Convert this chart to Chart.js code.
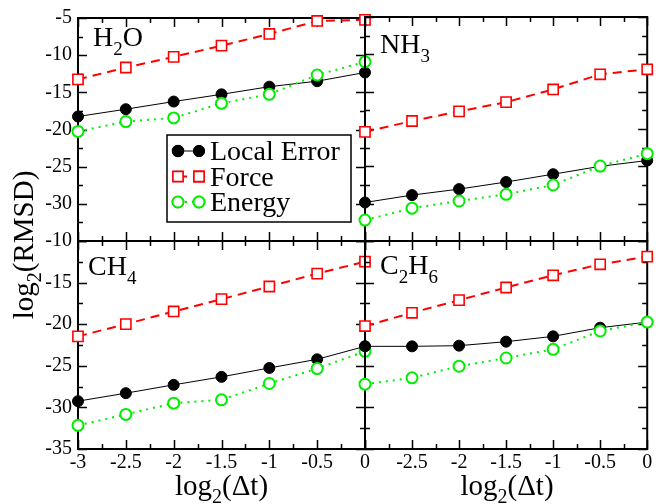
<!DOCTYPE html>
<html>
<head>
<meta charset="utf-8">
<script src="https://cdn.jsdelivr.net/npm/chart.js@4.4.1/dist/chart.umd.min.js"></script>
<style>
  html, body { margin: 0; padding: 0; background: #fff; }
  #wrap { position: relative; width: 656px; height: 504px; background: #fff; }
  #wrap canvas { position: absolute; left: 0; top: 0; }
</style>
</head>
<body>
<div id="wrap">
  <canvas id="cH2O" width="656" height="504"></canvas>
  <canvas id="cNH3" width="656" height="504"></canvas>
  <canvas id="cCH4" width="656" height="504"></canvas>
  <canvas id="cC2H6" width="656" height="504"></canvas>
</div>
<script>
// log2(dt) steps along x
const steps = [-3, -2.5, -2, -1.5, -1, -0.5, 0];
const xTickValues = [-3, -2.5, -2, -1.5, -1, -0.5, 0];
const xTickLabels = ['-3', '-2.5', '-2', '-1.5', '-1', '-0.5', '0'];
const yTickValuesTop = [-35, -30, -25, -20, -15, -10, -5];
const yTickLabelsTop = ['', '-30', '-25', '-20', '-15', '-10', '-5'];
const yTickValuesBottom = [-35, -30, -25, -20, -15, -10];
const yTickLabelsBottom = ['-35', '-30', '-25', '-20', '-15', '-10'];

const seriesNames = ['Local Error', 'Force', 'Energy'];

// log2(RMSD) per molecule
const h2oLocal  = [-18.25, -17.27, -16.24, -15.27, -14.24, -13.5, -12.33];
const h2oForce  = [-13.26, -11.66, -10.23, -8.72, -7.15, -5.4, -5.25];
const h2oEnergy = [-20.26, -18.93, -18.44, -16.48, -15.27, -12.67, -10.9];

const nh3Local  = [-29.84, -28.85, -28.05, -27.1, -26.05, -25.0, -24.22];
const nh3Force  = [-20.39, -18.93, -17.64, -16.4, -14.7, -12.67, -12.0];
const nh3Energy = [-32.2, -30.6, -29.64, -28.75, -27.5, -24.96, -23.3];

const ch4Local  = [-29.25, -28.29, -27.29, -26.33, -25.26, -24.22, -22.66];
const ch4Force  = [-21.46, -19.99, -18.47, -16.99, -15.47, -13.92, -12.48];
const ch4Energy = [-32.16, -30.84, -29.49, -29.09, -27.13, -25.33, -23.26];

const c2h6Local  = [-22.66, -22.66, -22.58, -22.1, -21.46, -20.42, -19.75];
const c2h6Force  = [-20.22, -18.63, -17.11, -15.59, -14.12, -12.8, -11.88];
const c2h6Energy = [-27.21, -26.45, -25.05, -24.06, -23.02, -20.82, -19.75];

const SERIF = "'Liberation Serif', 'Times New Roman', serif";
const W = 656, H = 504;
const AXIS_W = 50, AXIS_H = 40;

// draws text made of normal / subscript runs, returns total width
function drawRuns(ctx, runs, x, y, size, subSize, drop, measureOnly) {
  let cx = x;
  for (const [txt, sub] of runs) {
    ctx.font = (sub ? subSize : size) + 'px ' + SERIF;
    if (!measureOnly) ctx.fillText(txt, cx, sub ? y + drop : y);
    cx += ctx.measureText(txt).width;
  }
  return cx - x;
}

const styles = [
  { color: '#000000', dash: [], lineWidth: 1, pointStyle: 'circle', radius: 5.5, fill: '#000000', pbw: 1, order: 3 },
  { color: '#ff0000', dash: [9, 6], lineWidth: 2, pointStyle: 'rect', radius: 7.2, fill: '#ffffff', pbw: 1.6, order: 2 },
  { color: '#00ee00', dash: [2, 5], lineWidth: 2, pointStyle: 'circle', radius: 5.5, fill: '#ffffff', pbw: 2, order: 1 }
];

function makeDataset(i, values) {
  const s = styles[i];
  return {
    label: seriesNames[i],
    data: steps.map((x, k) => ({ x: x, y: values[k] })),
    borderColor: s.color,
    borderWidth: s.lineWidth,
    borderDash: s.dash,
    pointStyle: s.pointStyle,
    pointRadius: s.radius,
    pointBackgroundColor: s.fill,
    pointBorderColor: s.color,
    pointBorderWidth: s.pbw,
    tension: 0,
    clip: false,
    order: s.order
  };
}

// frame + inward major/minor ticks on all four sides
const frameTicks = {
  id: 'frameTicks',
  beforeDatasetsDraw(chart) {
    const { ctx, chartArea: a, scales: { x, y } } = chart;
    ctx.save();
    ctx.strokeStyle = '#000';
    ctx.lineWidth = 1.5;
    ctx.beginPath();
    for (let v = x.min; v <= x.max + 1e-9; v += 0.25) {
      const px = Math.round(x.getPixelForValue(v)) + 0.5;
      const len = Math.abs(v * 2 - Math.round(v * 2)) < 1e-6 ? 9 : 5;
      ctx.moveTo(px, a.bottom); ctx.lineTo(px, a.bottom - len);
      ctx.moveTo(px, a.top); ctx.lineTo(px, a.top + len);
    }
    for (let v = y.min; v <= y.max + 1e-9; v += 2.5) {
      const py = Math.round(y.getPixelForValue(v)) + 0.5;
      const len = Math.abs(v / 5 - Math.round(v / 5)) < 1e-6 ? 9 : 5;
      ctx.moveTo(a.left, py); ctx.lineTo(a.left + len, py);
      ctx.moveTo(a.right, py); ctx.lineTo(a.right - len, py);
    }
    ctx.stroke();
    ctx.lineWidth = 2;
    ctx.strokeRect(a.left, a.top, a.right - a.left, a.bottom - a.top);
    ctx.restore();
  }
};

function panelLabel(runs, x, y) {
  return {
    id: 'panelLabel',
    afterDatasetsDraw(chart) {
      const ctx = chart.ctx;
      ctx.save();
      ctx.fillStyle = '#000';
      ctx.textBaseline = 'alphabetic';
      ctx.textAlign = 'left';
      drawRuns(ctx, runs, x, y, 28, 19, 9);
      ctx.restore();
    }
  };
}

// legend box inside the H2O panel
const legendBox = {
  id: 'legendBox',
  afterDatasetsDraw(chart) {
    const ctx = chart.ctx;
    ctx.save();
    ctx.fillStyle = '#fff';
    ctx.fillRect(167, 135, 184, 87);
    ctx.strokeStyle = '#000';
    ctx.lineWidth = 1.5;
    ctx.strokeRect(167, 135, 184, 87);
    const rows = [151, 176.5, 202];
    rows.forEach((ry, i) => {
      const s = styles[i];
      ctx.save();
      ctx.strokeStyle = s.color;
      ctx.lineWidth = s.lineWidth;
      ctx.setLineDash(s.dash);
      ctx.beginPath();
      ctx.moveTo(178, ry); ctx.lineTo(199, ry);
      ctx.stroke();
      ctx.restore();
      [178, 199].forEach(mx => {
        Chart.helpers.drawPoint(ctx, {
          pointStyle: s.pointStyle, radius: s.radius, borderWidth: s.pbw, rotation: 0
        }, mx, ry);
        ctx.fillStyle = s.fill;
        ctx.strokeStyle = s.color;
        ctx.lineWidth = s.pbw;
        ctx.beginPath();
        if (s.pointStyle === 'rect') {
          const h = s.radius * Math.SQRT1_2;
          ctx.rect(mx - h, ry - h, 2 * h, 2 * h);
        } else {
          ctx.arc(mx, ry, s.radius, 0, Math.PI * 2);
        }
        ctx.fill();
        ctx.stroke();
      });
      ctx.fillStyle = '#000';
      ctx.font = '28px ' + SERIF;
      ctx.textBaseline = 'alphabetic';
      ctx.fillText(seriesNames[i], 210, ry + 9);
    });
    ctx.restore();
  }
};

// shared axis titles
const axisTitles = {
  id: 'axisTitles',
  afterDraw(chart) {
    const ctx = chart.ctx;
    ctx.save();
    ctx.fillStyle = '#000';
    ctx.textBaseline = 'alphabetic';
    ctx.textAlign = 'left';
    const xt = [['log', false], ['2', true], ['(\u0394t)', false]];
    [221.5, 507].forEach(cx => {
      const w = drawRuns(ctx, xt, 0, 0, 29, 20, 8, true);
      drawRuns(ctx, xt, cx - w / 2, 495, 29, 20, 8);
    });
    const yt = [['log', false], ['2', true], ['(RMSD)', false]];
    ctx.translate(33, 245);
    ctx.rotate(-Math.PI / 2);
    const w = drawRuns(ctx, yt, 0, 0, 29, 20, 8, true);
    drawRuns(ctx, yt, -w / 2, 0, 29, 20, 8);
    ctx.restore();
  }
};

function makeChart(id, panel, sets, extraPlugins) {
  const yVals = panel.top ? yTickValuesTop : yTickValuesBottom;
  const yLabs = panel.top ? yTickLabelsTop : yTickLabelsBottom;
  return new Chart(document.getElementById(id), {
    type: 'line',
    data: { datasets: sets.map((v, i) => makeDataset(i, v)) },
    options: {
      responsive: false,
      animation: false,
      events: [],
      layout: {
        padding: {
          left: panel.left - AXIS_W,
          right: W - panel.right,
          top: panel.y0,
          bottom: H - panel.y1 - AXIS_H
        }
      },
      plugins: { legend: { display: false }, tooltip: { enabled: false } },
      scales: {
        x: {
          type: 'linear', position: 'bottom',
          min: -3, max: 0,
          grid: { display: false, drawTicks: false },
          border: { display: false },
          afterBuildTicks: s => { s.ticks = xTickValues.map(v => ({ value: v })); },
          afterFit: s => { s.height = AXIS_H; },
          ticks: {
            display: !panel.top,
            padding: 2,
            color: '#000',
            font: { family: SERIF, size: 20 },
            maxRotation: 0,
            autoSkip: false,
            callback: (v, i) => (panel.skipFirstX && i === 0) ? '' : xTickLabels[i]
          }
        },
        y: {
          type: 'linear', position: 'left',
          min: panel.top ? -35 : -35, max: panel.top ? -5 : -10,
          grid: { display: false, drawTicks: false },
          border: { display: false },
          afterBuildTicks: s => { s.ticks = yVals.map(v => ({ value: v })); },
          afterFit: s => { s.width = AXIS_W; },
          ticks: {
            display: panel.left < 100,
            padding: 6,
            color: '#000',
            font: { family: SERIF, size: 20 },
            autoSkip: false,
            callback: (v, i) => yLabs[i]
          }
        }
      }
    },
    plugins: [frameTicks].concat(extraPlugins)
  });
}

const L = 78, M = 365, R = 649, T = 17, MID = 241, B = 449;

makeChart('cH2O', { top: true, left: L, right: M, y0: T, y1: MID }, [h2oLocal, h2oForce, h2oEnergy],
  [panelLabel([['H', false], ['2', true], ['O', false]], 93, 46), legendBox]);
makeChart('cNH3', { top: true, left: M, right: R, y0: T, y1: MID }, [nh3Local, nh3Force, nh3Energy],
  [panelLabel([['NH', false], ['3', true]], 380, 53)]);
makeChart('cCH4', { top: false, left: L, right: M, y0: MID, y1: B }, [ch4Local, ch4Force, ch4Energy],
  [panelLabel([['CH', false], ['4', true]], 88, 275)]);
makeChart('cC2H6', { top: false, left: M, right: R, y0: MID, y1: B, skipFirstX: true }, [c2h6Local, c2h6Force, c2h6Energy],
  [panelLabel([['C', false], ['2', true], ['H', false], ['6', true]], 380, 274), axisTitles]);
</script>
</body>
</html>
